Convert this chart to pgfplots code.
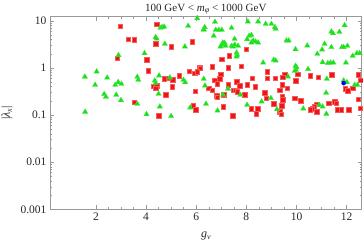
\documentclass[border=0pt]{standalone}
\usepackage{fontspec}
\setmainfont{Liberation Serif}
\usepackage{pgfplots}
\pgfplotsset{compat=1.18}
\usepackage{pgfplotstable}
\definecolor{mred}{rgb}{0.95,0.08,0.08}
\definecolor{mgreen}{rgb}{0.1,0.88,0.1}
\definecolor{framegray}{gray}{0.6}

\pgfplotstableread{
x y
2.98 7.78
3.30 4.06
3.53 3.98
2.84 1.63
4.43 8.57
4.38 3.28
5.00 2.83
5.85 3.61
4.03 1.48
6.14 1.03
4.08 0.877
5.72 0.863
7.99 2.49
7.31 1.80
7.01 1.55
6.17 1.00
6.65 1.07
7.27 1.01
7.79 1.10
4.28 0.415
4.42 0.421
4.38 0.371
4.72 0.585
4.88 0.605
5.06 0.565
5.32 0.687
5.94 0.772
6.04 0.835
5.04 0.401
5.96 0.325
4.79 0.271
3.53 0.190
5.89 0.159
5.98 0.129
4.51 0.0973
6.98 0.735
6.94 0.585
6.74 0.548
6.83 0.458
6.50 0.371
6.65 0.341
6.81 0.255
6.83 0.239
7.27 0.436
7.10 0.268
7.62 0.512
7.74 0.421
7.50 0.341
7.58 0.341
7.63 0.314
7.94 0.268
8.03 0.436
8.23 0.605
8.35 0.401
8.82 0.835
8.82 0.605
9.14 0.605
8.73 0.295
8.80 0.228
9.09 0.175
9.30 0.118
7.07 0.149
8.19 0.137
8.45 0.137
8.39 0.107
7.45 0.0973
9.33 0.341
9.53 0.735
9.45 0.644
10.04 0.746
9.97 0.538
10.55 0.677
10.87 0.644
11.41 0.711
12.45 0.711
12.56 0.556
9.42 0.436
9.64 0.371
11.95 0.359
12.04 0.330
12.24 0.371
9.42 0.246
9.45 0.210
9.93 0.228
10.16 0.200
9.41 0.159
10.80 0.172
10.70 0.151
10.62 0.135
11.29 0.178
11.52 0.193
11.59 0.178
12.45 0.217
12.55 0.140
10.54 0.129
10.80 0.118
11.65 0.129
11.79 0.129
12.08 0.129
9.36 0.118
9.38 0.104
}\reddata

\pgfplotstableread{
x y
1.56 0.65
2.03 0.835
2.45 0.62
1.97 0.435
2.33 0.277
2.40 0.243
2.77 0.435
2.89 0.497
3.02 0.458
2.81 0.268
3.00 0.206
1.57 0.117
2.90 1.86
6.04 11.3
4.57 7.05
4.64 7.3
4.72 7.5
5.68 7.78
6.30 6.62
4.38 4.48
4.42 4.18
4.75 3.23
5.55 2.83
3.94 2.05
6.75 9.46
6.34 7.3
6.30 6.4
6.78 6.4
6.90 6.4
7.02 6.4
7.41 7.05
8.06 9.6
8.47 9.6
8.77 8.57
9.00 8.57
9.14 7.3
6.70 4.77
7.53 4.12
8.11 4.77
8.20 5.0
8.03 4.06
8.27 3.79
8.37 3.61
8.20 3.44
8.47 3.44
7.06 3.44
7.14 3.34
7.01 3.08
6.97 2.83
7.17 2.93
7.41 2.93
7.47 2.83
7.54 3.08
7.67 2.93
7.61 2.11
7.63 1.89
7.61 1.74
8.67 1.29
9.09 1.48
9.17 6.72
9.60 3.79
9.69 3.79
10.43 2.97
9.96 2.49
11.12 3.23
10.83 1.98
11.02 2.44
11.39 5.89
11.45 5.44
11.71 5.8
11.92 8.05
11.39 2.75
11.81 2.75
11.88 2.75
12.03 2.93
12.24 1.80
12.41 2.05
12.52 2.05
9.17 1.43
9.96 1.10
10.00 1.03
11.04 1.32
11.25 1.26
11.36 1.29
11.47 1.29
11.97 1.29
10.46 0.94
4.52 0.687
3.65 0.644
3.69 0.556
4.35 0.538
4.38 0.474
4.95 0.623
5.49 0.556
5.56 0.497
6.30 0.585
4.50 0.281
3.65 0.172
4.55 0.151
5.76 0.144
4.02 0.104
5.00 0.0946
6.35 0.421
7.07 0.268
7.27 0.359
7.76 0.268
8.61 0.193
8.98 0.228
9.22 0.133
6.39 0.172
6.85 0.124
8.03 0.164
9.98 0.907
9.93 0.863
9.66 0.654
11.21 0.585
11.88 0.538
12.01 0.497
12.32 0.435
12.43 0.435
11.18 0.295
10.91 0.164
11.04 0.151
10.27 0.137
11.19 0.106
}\greendata

\begin{document}
\begin{tikzpicture}
\begin{axis}[
  scale only axis,
  width=311.7pt, height=192.6pt,
  ymode=log,
  xmin=0.17, xmax=12.6,
  ymin=0.001, ymax=12.2,
  xtick={2,4,6,8,10,12},
  minor x tick num=3,
  ytick={0.001,0.01,0.1,1,10},
  yticklabels={0.001,0.01,0.1,1,10},
  /pgf/number format/assume math mode=true,
  tick label style={font=\fontsize{11.5}{13}\selectfont, text=black!85},
  axis line style={framegray, line width=0.5pt},
  tick style={framegray, line width=0.4pt},
  major tick length=4pt,
  minor tick length=2pt,
  tick align=inside,
  xtick pos=both, ytick pos=both,
  title={100 GeV < \textit{m}\raisebox{-0.35ex}{\fontsize{8}{9}\selectfont\textit{φ}} < 1000 GeV},
  every axis title/.style={at={(axis description cs:0.5,1)}, anchor=base, yshift=5.7pt, inner sep=0pt, font=\fontsize{11}{13}\selectfont, text=black!85},
  xlabel={\textit{g}\raisebox{-0.35ex}{\fontsize{8}{9}\selectfont\textit{ν}}},
  xlabel style={at={(axis description cs:0.5,0)}, anchor=base, yshift=-28.2pt, font=\fontsize{12}{14}\selectfont, text=black!85},
  ylabel={|\textit{λ}\raisebox{-0.35ex}{\fontsize{8}{9}\selectfont\textit{x}}|},
  ylabel style={at={(axis description cs:0,0.5)}, anchor=center, yshift=43pt, font=\fontsize{12}{14}\selectfont, text=black!85},
  clip=true,
]
\addplot[only marks, mark=square*, mark size=2.2pt, mred, mark options={draw=mred!70!white, fill=mred, line width=0.4pt}] table[x=x,y=y] {\reddata};
\addplot[only marks, mark=triangle*, mark size=3.1pt, mgreen, mark options={draw=mgreen!80!white, fill=mgreen, line width=0.3pt}] table[x=x,y=y] {\greendata};
\addplot[only marks, mark=*, mark size=2pt, blue] coordinates {(11.88,0.474)};
\coordinate (bl) at (rel axis cs:0,0);
\coordinate (tr) at (rel axis cs:1,1);
\end{axis}
\pgfresetboundingbox
\path[use as bounding box] ([xshift=-50pt,yshift=-35.7pt]bl) rectangle ([xshift=1.3pt,yshift=16.7pt]tr);
\end{tikzpicture}
\end{document}
